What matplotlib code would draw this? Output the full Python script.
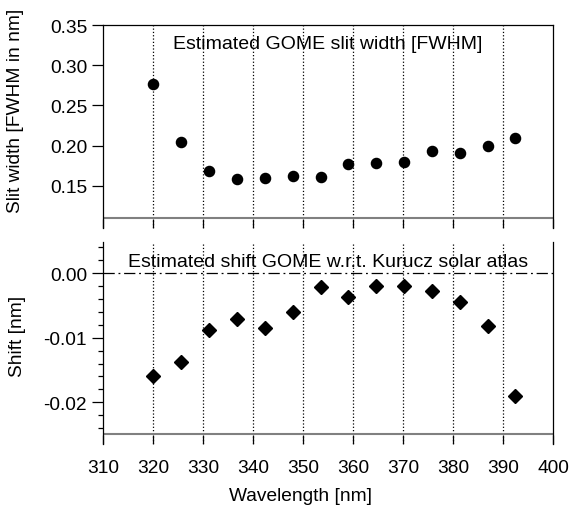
import numpy as np
import matplotlib.pyplot as plt
from matplotlib.ticker import FixedLocator, FormatStrFormatter

plt.rcParams['font.family'] = ['Liberation Sans', 'DejaVu Sans']
plt.rcParams['axes.unicode_minus'] = False

# wavelengths of the fit windows [nm]
wavelength = [320.0, 325.6, 331.2, 336.8, 342.4, 347.9, 353.5,
              359.0, 364.6, 370.2, 375.7, 381.3, 386.9, 392.4]
# slit width (FWHM in nm)
slit_width = [0.277, 0.205, 0.168, 0.159, 0.160, 0.162, 0.161,
              0.177, 0.178, 0.179, 0.193, 0.191, 0.200, 0.210]
# shift w.r.t. Kurucz [nm]
shift = [-0.0159, -0.0138, -0.0088, -0.0071, -0.0085, -0.0060, -0.0022,
         -0.0037, -0.0020, -0.0019, -0.0027, -0.0045, -0.0082, -0.0191]

grid_x = [320, 330, 340, 350, 360, 370, 380, 390]
xticks = [310, 320, 330, 340, 350, 360, 370, 380, 390, 400]

fs = 13.8
fig = plt.figure(figsize=(5.7, 5.06), dpi=100)
ax1 = fig.add_axes([0.1807, 0.5474, 0.7895, 0.4012])
ax2 = fig.add_axes([0.1807, 0.1206, 0.7895, 0.3992])

for ax in (ax1, ax2):
    ax.set_xlim(310, 400)
    for gx in grid_x:
        ax.axvline(gx, color='black', linestyle=':', linewidth=0.9, zorder=1)
    ax.spines['bottom'].set_visible(False)
    ax.set_xticks(xticks)
    ax.tick_params(axis='x', direction='in', length=6.5, width=0.9, pad=11, labelsize=fs)
    ax.tick_params(axis='y', which='major', direction='out', length=7.6, width=0.9, pad=3.9, labelsize=fs)
    ax.tick_params(axis='y', which='minor', direction='out', length=3.6, width=0.9)
    for s in ax.spines.values():
        s.set_linewidth(0.9)

# top panel: slit width
ax1.set_ylim(0.0975, 0.35)
ax1.axhline(0.11, color='#808080', linewidth=1.5, zorder=2)
ax1.plot(wavelength, slit_width, 'o', color='black', markersize=7.3, zorder=3)
ax1.set_yticks([0.15, 0.20, 0.25, 0.30, 0.35])
ax1.yaxis.set_major_formatter(FormatStrFormatter('%.2f'))
ax1.tick_params(axis='x', labelbottom=False)
ax1.text(355, 0.327, 'Estimated GOME slit width [FWHM]', ha='center', va='center', fontsize=14)
ax1.set_ylabel('Slit width [FWHM in nm]', fontsize=fs)
ax1.yaxis.set_label_coords(-0.175, 0.583)

# bottom panel: shift
ax2.spines['top'].set_visible(False)
ax2.set_ylim(-0.02647, 0.00485)
ax2.axhline(-0.025, color='#808080', linewidth=1.5, zorder=2)
ax2.axhline(0.0, color='black', linestyle=(0, (9, 3, 1.5, 3)), linewidth=0.9, zorder=2)
ax2.plot(wavelength, shift, 'D', color='black', markersize=7.0, zorder=3)
ax2.set_yticks([-0.02, -0.01, 0.00])
ax2.yaxis.set_minor_locator(FixedLocator(np.arange(-0.024, 0.0041, 0.002)))
ax2.yaxis.set_major_formatter(FormatStrFormatter('%.2f'))
ax2.text(355, 0.0019, 'Estimated shift GOME w.r.t. Kurucz solar atlas', ha='center', va='center', fontsize=14)
ax2.set_ylabel('Shift [nm]', fontsize=fs)
ax2.yaxis.set_label_coords(-0.172, 0.535)
ax2.set_xlabel('Wavelength [nm]', fontsize=fs)
ax2.xaxis.set_label_coords(0.438, -0.212)

fig.savefig('out.png', dpi=100)
